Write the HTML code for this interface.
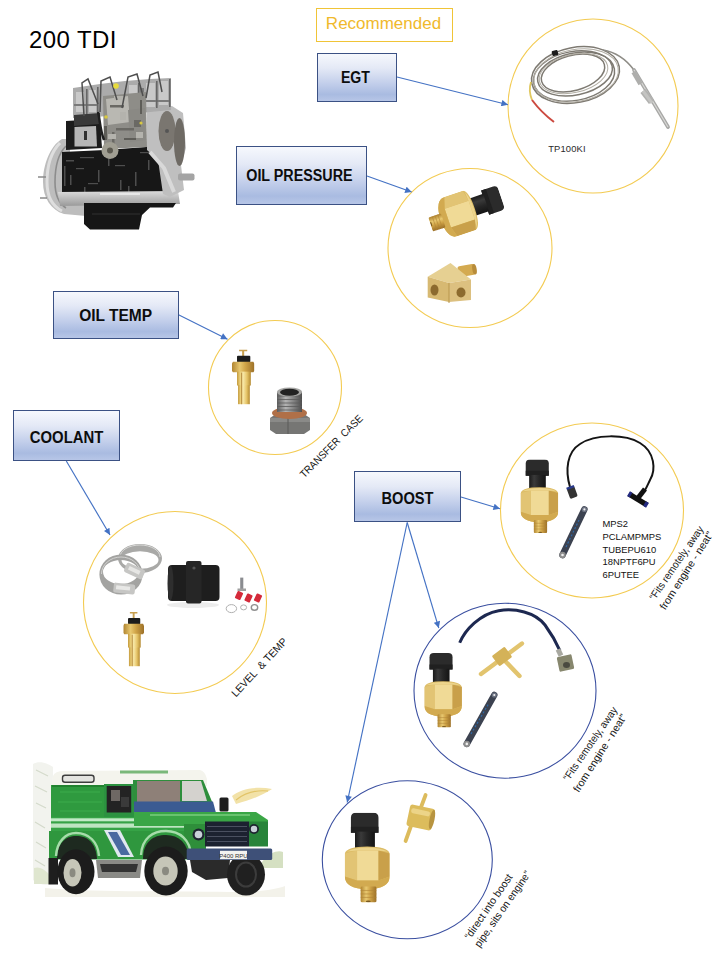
<!DOCTYPE html>
<html><head><meta charset="utf-8"><title>200 TDI</title>
<style>
html,body{margin:0;padding:0;background:#fff;}
body{width:720px;height:960px;position:relative;overflow:hidden;font-family:"Liberation Sans",sans-serif;}
.box{position:absolute;box-sizing:border-box;border:1.3px solid #3b5184;
background:linear-gradient(to bottom,#f6f8fd 0%,#e4e9f6 30%,#c3cfeb 62%,#a9bbe1 86%,#b7c6e7 100%);
display:flex;align-items:center;justify-content:center;font-weight:bold;color:#0d0d0d;font-size:16px;white-space:nowrap;}
.box span{display:inline-block;}
#svg{position:absolute;left:0;top:0;}
.lbl{position:absolute;font-size:9.4px;color:#111;line-height:12.7px;white-space:nowrap;}
</style></head>
<body>
<svg id="svg" width="720" height="960" viewBox="0 0 720 960">
<defs>
<marker id="ah" viewBox="0 0 10 10" refX="10" refY="5" markerWidth="8" markerHeight="6.6" markerUnits="userSpaceOnUse" orient="auto">
<path d="M0,0 L10,5 L0,10 z" fill="#4472c4"/>
</marker>
<linearGradient id="brH" x1="0" y1="0" x2="1" y2="0">
<stop offset="0" stop-color="#c49a3c"/><stop offset="0.22" stop-color="#ebd07a"/><stop offset="0.45" stop-color="#f7e7a6"/><stop offset="0.72" stop-color="#e6c56a"/><stop offset="1" stop-color="#b48a30"/>
</linearGradient>
<linearGradient id="brH2" x1="0" y1="0" x2="1" y2="0">
<stop offset="0" stop-color="#b08430"/><stop offset="0.35" stop-color="#e8c870"/><stop offset="0.6" stop-color="#d0a448"/><stop offset="1" stop-color="#9c7028"/>
</linearGradient>
<linearGradient id="stH" x1="0" y1="0" x2="1" y2="0">
<stop offset="0" stop-color="#5e5e5e"/><stop offset="0.35" stop-color="#b4b4b4"/><stop offset="0.6" stop-color="#8c8c8c"/><stop offset="1" stop-color="#4e4e4e"/>
</linearGradient>
<linearGradient id="blkH" x1="0" y1="0" x2="1" y2="0">
<stop offset="0" stop-color="#1a1a1a"/><stop offset="0.3" stop-color="#3a3a3a"/><stop offset="0.6" stop-color="#262626"/><stop offset="1" stop-color="#141414"/>
</linearGradient>
<linearGradient id="grayV" x1="0" y1="0" x2="0" y2="1">
<stop offset="0" stop-color="#dcdcdc"/><stop offset="1" stop-color="#9a9a9a"/>
</linearGradient>
<symbol id="psens" viewBox="0 0 44 90" preserveAspectRatio="none">
<path d="M6,5 Q6,0 11,0 L28,0 Q33,0 33,5 L33,20 L6,20 Z" fill="#2b2b2b"/>
<path d="M6,14 L33,14 L33,20 L6,20 Z" fill="#202020"/>
<rect x="10" y="19" width="19.5" height="17" fill="url(#blkH)"/>
<path d="M0,41 Q2,34 22,34 Q42,34 44,41 L44,64 Q44,76 22,77 Q0,76 0,64 Z" fill="#dcbc66"/>
<path d="M12,38 L33,38 L33,68 L12,68 Z" fill="#f0da96"/>
<path d="M0,41 L12,38 L12,68 L0,64 Z" fill="#e2c474"/>
<path d="M33,38 L44,41 L44,64 L33,68 Z" fill="#c9a04a"/>
<path d="M0,64 L12,68 L33,68 L44,64 Q44,76 22,77 Q0,76 0,64 Z" fill="#d2aa50"/>
<path d="M2,39 Q10,35 22,35 Q34,35 42,39 L33,38 L12,38 Z" fill="#ecd48c"/>
<rect x="15.5" y="74" width="15.5" height="16" rx="1.5" fill="url(#brH2)"/>
<path d="M15.5,78 L31,78 M15.5,81.5 L31,81.5 M15.5,85 L31,85" stroke="#b08436" stroke-width="0.6"/>
<ellipse cx="23" cy="89" rx="2.5" ry="0.8" fill="#7a5a20"/>
</symbol>
<symbol id="tsens" viewBox="0 0 22 56" preserveAspectRatio="none">
<path d="M7,1 L15,1 L15,2.5 L12,2.5 L12,8 L10,8 L10,2.5 L7,2.5 Z" fill="#c8a050"/>
<rect x="5" y="7" width="13" height="6.5" rx="1" fill="#1c1c1c"/>
<path d="M1,13 L21,13 L22,15 L22,22 L21,23.5 L1,23.5 L0,22 L0,15 Z" fill="url(#brH2)"/>
<rect x="5" y="23" width="13.5" height="14" fill="url(#brH)"/>
<rect x="6" y="36.5" width="11.5" height="19.5" fill="url(#brH)"/>
<path d="M9.5,24 L9.5,56" stroke="#a87a30" stroke-width="0.8"/>
</symbol>
</defs>
<!-- ENGINE -->
<g id="engine">
<!-- bellhousing -->
<path d="M62,139 C50,146 43,165 43,182 C43,198 51,210 64,214 L86,216 L86,190 L70,190 L70,139 Z" fill="#bdbdbd"/>
<path d="M60,143 C51,152 47,166 47,182 C47,197 52,206 62,211" fill="none" stroke="#dedede" stroke-width="3"/>
<path d="M66,146 C58,154 55,168 55,182 C55,195 58,203 66,208" fill="none" stroke="#8c8c8c" stroke-width="1.6"/>
<path d="M38,177 L46,177 M40,198 L47,198" stroke="#8a8a8a" stroke-width="1.4"/>
<!-- black block -->
<path d="M62,152 L105,150 L160,146 L164,194 L62,194 Z" fill="#171717"/>
<g fill="#4e4e4e">
<rect x="66" y="160" width="8" height="1.5"/><rect x="80" y="157" width="14" height="1.2"/><rect x="98" y="170" width="1.5" height="12"/>
<rect x="70" y="175" width="1.5" height="10"/><rect x="115" y="165" width="10" height="1.2"/><rect x="135" y="172" width="1.5" height="14"/>
<rect x="120" y="180" width="1.5" height="10"/><rect x="88" y="183" width="10" height="1.2"/><rect x="148" y="160" width="1.5" height="10"/>
<rect x="76" y="168" width="8" height="1.2"/><rect x="108" y="158" width="1.5" height="8"/><rect x="140" y="152" width="10" height="1.2"/>
<rect x="64" y="166" width="1.5" height="20"/><rect x="84" y="187" width="1.5" height="6"/><rect x="128" y="186" width="1.5" height="6"/>
</g>
<!-- lower rail -->
<path d="M58,192 L178,191 L180,204 L60,206 Z" fill="url(#grayV)"/>
<path d="M100,194 L140,194" stroke="#efefef" stroke-width="1.5"/>
<!-- oil pan -->
<path d="M84,203 L176,203 L173,207.5 L150,207.5 L142,215 L139,229.5 L90,229.5 L84,224 Z" fill="#161616"/>
<path d="M92,214 L140,214" stroke="#303030" stroke-width="1"/>
<!-- timing cover -->
<path d="M147,110 L172,106 L183,113 L186,148 L181,165 L184,190 L170,197 L163,194 L158,160 L147,150 Z" fill="#bfbfbf"/>
<ellipse cx="167" cy="131" rx="8.5" ry="20" fill="#7a7670"/>
<ellipse cx="179.5" cy="142" rx="5.5" ry="24" fill="#6e6a64"/>
<circle cx="167" cy="131" r="2" fill="#555"/>
<path d="M150,152 L164,168 L174,192" stroke="#d9d9d9" stroke-width="4" fill="none"/>
<rect x="178" y="173.5" width="16.5" height="7" rx="2" fill="#a4a4a4"/>
<!-- head -->
<path d="M73,88 L100,84 L125,81 L150,79 L171,78 L171,110 L150,112 L120,115 L95,117 L73,118 Z" fill="#ababab"/>
<g fill="#c9c9c9">
<rect x="76" y="92" width="8" height="20"/><rect x="89" y="90" width="7" height="22"/><rect x="129" y="85" width="8" height="22"/><rect x="146" y="83" width="9" height="24"/><rect x="159" y="81" width="9" height="24"/>
</g>
<g fill="#7a7a7a">
<rect x="74" y="104" width="24" height="2"/><rect x="126" y="100" width="44" height="2"/><rect x="140" y="88" width="4" height="10"/>
</g>
<g fill="#666">
<rect x="86" y="89" width="1.6" height="26"/><rect x="97" y="87" width="1.6" height="28"/><rect x="138" y="83" width="1.6" height="26"/><rect x="156" y="81" width="1.6" height="27"/><rect x="169" y="79" width="1.6" height="28"/>
</g>
<!-- dark zone left under head -->
<path d="M66,121 L100,119 L102,148 L66,150 Z" fill="#1c1c1c"/>
<path d="M74,115 L100,113 L100,124 L74,126 Z" fill="#3a3a3a"/>
<path d="M74.5,127 L96,126 L97,146.5 L74.5,146.5 Z" fill="#b6b6b6"/>
<rect x="84" y="131" width="3" height="9" fill="#303030"/>
<!-- injection pump -->
<path d="M103,96 L146,92 L147,147 L104,149 Z" fill="#8e8d88"/>
<path d="M106,99 L128,96 L130,122 L108,125 Z" fill="#b9b8b2"/>
<path d="M128,110 L145,108 L146,140 L130,142 Z" fill="#8a8984"/>
<g fill="#6a6964">
<rect x="110" y="105" width="14" height="2.5"/><rect x="116" y="128" width="18" height="2.5"/><rect x="112" y="132" width="2.5" height="12"/><rect x="134" y="120" width="7" height="7"/>
</g>
<g fill="#b4b3ad"><rect x="108" y="134" width="8" height="5"/><rect x="120" y="112" width="6" height="8"/><rect x="136" y="132" width="7" height="6"/><rect x="114" y="96" width="10" height="4"/></g>
<g fill="#5e5d58"><rect x="104" y="126" width="3" height="14"/><rect x="124" y="138" width="12" height="2"/><rect x="140" y="100" width="2" height="14"/></g>
<path d="M98,112 C100,120 100,130 104,140" stroke="#1e1e1e" stroke-width="2.5" fill="none"/>
<circle cx="110" cy="150.5" r="8.5" fill="#a09e92"/>
<circle cx="110" cy="150.5" r="3" fill="#5c5a50"/>
<!-- injector pipes -->
<g fill="none" stroke="#4e4e4e" stroke-width="1.5">
<path d="M84,116 L82,83 L88,79 L98,104"/>
<path d="M100,112 L101,81 L110,77 L117,100"/>
<path d="M122,108 L128,77 L137,74 L143,96"/>
<path d="M146,98 L150,75 L158,72 L162,92"/>
</g>
<circle cx="116" cy="86" r="2.8" fill="#e8dc3c"/>
<circle cx="106" cy="117" r="1.8" fill="#d8c840"/>
<circle cx="141" cy="123" r="1.6" fill="#d8c840"/>
</g>
<!-- circles -->
<g fill="none" stroke="#f3cb52" stroke-width="1.1">
<ellipse cx="593" cy="106" rx="85" ry="87"/>
<ellipse cx="470" cy="248" rx="82" ry="79.5"/>
<ellipse cx="275" cy="387.5" rx="66.5" ry="67"/>
<ellipse cx="175" cy="602.5" rx="91.5" ry="91"/>
<ellipse cx="592" cy="510.5" rx="91.5" ry="87.5"/>
</g>
<g fill="none" stroke="#3a4fa0" stroke-width="1.1">
<ellipse cx="505" cy="690.7" rx="91" ry="87.5"/>
<ellipse cx="407.3" cy="859.8" rx="85" ry="79"/>
</g>
<!-- arrows -->
<g stroke="#4472c4" stroke-width="1.15" fill="none" marker-end="url(#ah)">
<line x1="397" y1="77" x2="508" y2="104.7"/>
<line x1="367" y1="176" x2="411.7" y2="192"/>
<line x1="178.5" y1="314.7" x2="227.5" y2="339.2"/>
<line x1="66.3" y1="461" x2="110" y2="535"/>
<line x1="461" y1="497" x2="500" y2="508.8"/>
<line x1="407.2" y1="522.5" x2="438.8" y2="628.1"/>
<line x1="407.2" y1="522.5" x2="347.2" y2="802.5"/>
</g>

<!-- EGT thermocouple -->
<g id="tc" fill="none">
<g stroke="#7e7a72" stroke-width="1.5">
<ellipse cx="575.5" cy="75" rx="44.5" ry="27.5" transform="rotate(-11 575.5 75)"/>
<ellipse cx="574" cy="76" rx="41" ry="24.5" transform="rotate(-10 574 76)"/>
<ellipse cx="573" cy="73" rx="32.5" ry="17.5" transform="rotate(-15 573 73)"/>
<ellipse cx="575" cy="74" rx="38" ry="21" transform="rotate(-12 575 74)"/>
</g>
<g stroke="#b2aea4" stroke-width="1">
<ellipse cx="576" cy="75.5" rx="42.8" ry="26" transform="rotate(-11 576 75.5)"/>
<ellipse cx="573.5" cy="73.5" rx="35" ry="19" transform="rotate(-13 573.5 73.5)"/>
</g>
<path d="M603,50 C615,52 625,58 634,70" stroke="#8e8c86" stroke-width="1.6"/>
<path d="M634,70 L668,127" stroke="#a8a8a6" stroke-width="3.8" stroke-linecap="round"/>
<path d="M634,70 L668,127" stroke="#d8d8d6" stroke-width="1.2"/>
<path d="M633.5,72 L640.5,84" stroke="#aeaeac" stroke-width="4.6"/>
<path d="M643,91 L651.5,102" stroke="#b2b2b0" stroke-width="6.5"/>
<path d="M643,91 L652,103" stroke="#c4c4c2" stroke-width="3"/>
<path d="M531,82 C529,88 530,95 532,100" stroke="#e0c860" stroke-width="1.8"/>
<path d="M532,100 C538,108 546,116 554,122" stroke="#cc4a40" stroke-width="2"/>
<rect x="552" y="50.5" width="6" height="5" rx="1" fill="#1c1c1c" transform="rotate(-15 555 53)"/>
</g>

<!-- OIL PRESSURE sensor (rotated) -->
<use href="#psens" x="0" y="0" width="44" height="90" transform="translate(466,211.5) rotate(71.5) scale(0.94,0.84) translate(-22,-45)"/>
<!-- Brass tee -->
<g id="tee1">
<rect x="458" y="265" width="17" height="11" rx="2" fill="#d4aa50" transform="rotate(-10 466.5 270.5)"/>
<ellipse cx="474.5" cy="269.3" rx="2.2" ry="5.3" fill="#b88c3a" transform="rotate(-10 474.5 269.3)"/>
<path d="M427.7,276.7 L450.5,263.1 L471,279.4 L449,283 Z" fill="#e6d092"/>
<path d="M427.7,276.7 L449,283 L449,302 L427.7,297.5 Z" fill="#d7b972"/>
<path d="M449,283 L471,279.4 L471,300 L449,302 Z" fill="#dcc080"/>
<path d="M449,283 L449,303" stroke="#b8964c" stroke-width="1"/>
<ellipse cx="434.5" cy="290" rx="4" ry="5.5" fill="#8c6a2e"/>
<ellipse cx="461" cy="292.5" rx="4.5" ry="5" fill="#8c6a2e"/>
</g>

<!-- OIL TEMP sender + plug -->
<use href="#tsens" x="231.9" y="348.8" width="22.5" height="55.6"/>
<g id="plug">
<path d="M270,418 L276,414 L304,414 L310,418 L310,430 L304,434 L276,434 L270,430 Z" fill="#767674"/>
<path d="M270,418 L310,418 L310,422 L270,422 Z" fill="#8a8a88"/>
<path d="M288,414 L288,434" stroke="#5a5a58" stroke-width="1"/>
<ellipse cx="289.5" cy="413" rx="17.5" ry="6" fill="#b07048"/>
<rect x="277" y="392" width="25" height="20" fill="url(#stH)"/>
<g stroke="#5a5a5a" stroke-width="0.8"><path d="M277,396 L302,396 M277,399.5 L302,399.5 M277,403 L302,403 M277,406.5 L302,406.5 M277,410 L302,410"/></g>
<ellipse cx="289.5" cy="392" rx="12.5" ry="4.5" fill="#a6a6a4"/>
<ellipse cx="289.5" cy="392.3" rx="9.5" ry="3.5" fill="#222"/>
</g>

<!-- COOLANT items -->
<g id="cool">
<ellipse cx="193" cy="605" rx="26" ry="3" fill="#ececec"/>
<path fill-rule="evenodd" fill="#a9a9a7" d="M118,558.5 A22,14.5 0 1,0 162,558.5 A22,14.5 0 1,0 118,558.5 Z M121.5,560 A18.5,8.8 0 1,0 158.5,560 A18.5,8.8 0 1,0 121.5,560 Z"/>
<path fill="none" stroke="#d8d8d6" stroke-width="1" d="M120,557 A20,12 0 0,1 160,557"/>
<path fill-rule="evenodd" fill="#a3a3a1" d="M99.4,574.5 A21.6,20 0 1,0 142.6,574.5 A21.6,20 0 1,0 99.4,574.5 Z M103,572 A17.8,12 0 1,0 138.6,572 A17.8,12 0 1,0 103,572 Z"/>
<path fill="none" stroke="#d2d2d0" stroke-width="1" d="M101.5,574 A19.5,17 0 0,1 140.5,574"/>
<rect x="124.5" y="566" width="20" height="10" rx="2" fill="#c6c6c4" transform="rotate(25 134.5 571)"/>
<rect x="128" y="568.5" width="12" height="4" fill="#e6e6e4" transform="rotate(25 134.5 571)"/>
<rect x="113.5" y="583.5" width="21.5" height="10" rx="2" fill="#c6c6c4" transform="rotate(6 124 588.5)"/>
<rect x="116" y="586" width="14" height="4" fill="#e8e8e6" transform="rotate(6 124 588.5)"/>
<rect x="168" y="565" width="51.5" height="36" rx="4" fill="#1e1e1e"/>
<ellipse cx="170.5" cy="583" rx="3" ry="17" fill="#2e2e2e"/>
<rect x="186" y="561" width="15.5" height="42.5" rx="2" fill="#262626"/>
<circle cx="194" cy="568" r="1.6" fill="#555"/>
<rect x="240.2" y="577.6" width="3.1" height="12.5" fill="#8a8c90"/>
<rect x="237.5" y="588.5" width="8.5" height="2.5" fill="#a0a0a0"/>
<rect x="236" y="591.5" width="6" height="8" rx="1" fill="#d42a3a" transform="rotate(25 239 595.5)"/>
<rect x="245.5" y="594" width="6" height="8" rx="1" fill="#d42a3a" transform="rotate(25 248.5 598)"/>
<rect x="255" y="594" width="6" height="8" rx="1" fill="#d42a3a" transform="rotate(25 258 598)"/>
<ellipse cx="231.4" cy="608.6" rx="5.2" ry="4" fill="none" stroke="#b0b0b0" stroke-width="1"/>
<ellipse cx="243.6" cy="607.4" rx="3" ry="2.5" fill="none" stroke="#b0b0b0" stroke-width="1"/>
<ellipse cx="254.5" cy="607.4" rx="3.2" ry="2.8" fill="none" stroke="#909090" stroke-width="1.4"/>
</g>
<use href="#tsens" x="123.3" y="611" width="20.7" height="55.4"/>

<!-- BOOST circle 5 -->
<use href="#psens" x="520.6" y="459.4" width="37.6" height="73.7"/>
<path d="M570,487 C565,470 567,452 580,444 C595,434 625,434 640,443 C655,452 656,470 650,480 C648,484 647,487 645,490" fill="none" stroke="#141414" stroke-width="2"/>
<rect x="568" y="487" width="8" height="11" rx="1.5" fill="#333" transform="rotate(-20 572 492)"/>
<rect x="568" y="486" width="8" height="2.5" fill="#2a3a8a" transform="rotate(-20 572 492)"/>
<g stroke-linecap="butt">
<line x1="629" y1="494" x2="647" y2="505" stroke="#111" stroke-width="5.5"/>
<line x1="638" y1="498" x2="645" y2="489" stroke="#111" stroke-width="5"/>
<line x1="628.5" y1="493.7" x2="631" y2="495.2" stroke="#232a80" stroke-width="5.5"/>
<line x1="644.5" y1="503.5" x2="647.5" y2="505.3" stroke="#232a80" stroke-width="5.5"/>
</g>
<line x1="562.5" y1="555" x2="584.4" y2="509.4" stroke="#3c4250" stroke-width="6.5" stroke-linecap="round"/>
<line x1="566" y1="547" x2="580" y2="518" stroke="#2e6aa8" stroke-width="1.2" stroke-dasharray="2 2"/>
<circle cx="562.5" cy="555" r="3.2" fill="#8c8c8c"/><circle cx="562.5" cy="555" r="1.3" fill="#eee"/>
<circle cx="584.4" cy="509.4" r="2.6" fill="#6a7080"/><circle cx="584.4" cy="509.4" r="1.1" fill="#eee"/>

<!-- BOOST circle 6 -->
<use href="#psens" x="424.4" y="653" width="37.5" height="74.5"/>
<path d="M459.7,642.8 C465,630 480,614 498.6,610.7 C515,608 535,612 545,625 C553,636 557,644 559.9,650.6" fill="none" stroke="#1d2850" stroke-width="3"/>
<rect x="557" y="649" width="5" height="7" fill="#a8a8a0" transform="rotate(-25 559.5 652.5)"/>
<rect x="558" y="655.5" width="15" height="15" rx="1.5" fill="#87876e" transform="rotate(-12 565.5 663)"/>
<ellipse cx="566.5" cy="665" rx="3.5" ry="3" fill="#4a4a40"/>
<g stroke="#e2c46e" stroke-width="4.4" stroke-linecap="round">
<line x1="481" y1="674" x2="522" y2="643.5"/>
<line x1="502.5" y1="658.3" x2="519.5" y2="676"/>
</g>
<rect x="494" y="650" width="16" height="13" rx="1.5" fill="#d4b258" transform="rotate(-37 502 656.5)"/>
<line x1="466.8" y1="743.9" x2="494.3" y2="695" stroke="#3c4250" stroke-width="6.5" stroke-linecap="round"/>
<line x1="471" y1="734" x2="489" y2="703" stroke="#2e6aa8" stroke-width="1.2" stroke-dasharray="2 2"/>
<circle cx="466.8" cy="743.9" r="3.2" fill="#8c8c8c"/><circle cx="466.8" cy="743.9" r="1.3" fill="#eee"/>
<circle cx="494.3" cy="695" r="2.6" fill="#6a7080"/><circle cx="494.3" cy="695" r="1.1" fill="#eee"/>

<!-- BOOST circle 7 -->
<use href="#psens" x="344.8" y="812.7" width="44.9" height="89.7"/>
<g stroke="#dcbb5c" stroke-width="3.8" stroke-linecap="round">
<line x1="425.6" y1="795" x2="420.7" y2="808"/>
<line x1="411.7" y1="824" x2="405.6" y2="841"/>
</g>
<rect x="408" y="806.5" width="25.5" height="22" rx="3" fill="#dcbc5c" transform="rotate(12 420.8 817.5)"/>
<rect x="410" y="810" width="19" height="5" rx="2" fill="#ecd488" transform="rotate(12 420.8 817.5)"/>
<ellipse cx="432" cy="819.5" rx="2.5" ry="10" fill="#b89440" transform="rotate(12 432 819.5)"/>
<!-- LAND ROVER -->
<g id="rover">
<!-- background sketch -->
<path d="M33,764 C38,761 46,762 53,767 L52,884 C45,886 38,884 33,880 Z" fill="#f2f3ee"/>
<path d="M36,770 L48,776 M35,786 L47,792 M36,803 L46,808 M35,822 L45,828 M36,842 L46,848 M35,860 L45,866" stroke="#d4dacb" stroke-width="1.2"/>
<path d="M34,868 C40,866 46,870 50,876 L50,884 L34,884 Z" fill="#dfe6cf"/>
<path d="M45,888 C90,892 160,891 230,892 C255,892 275,890 285,886 L285,897 L45,897 Z" fill="#f3f2ea"/>
<path d="M232,796 C240,789 256,786 272,789 C263,795 251,800 236,804 Z" fill="#f2e2a8"/>
<path d="M236,800 C246,792 258,790 268,791" stroke="#e2c468" stroke-width="1.2" fill="none"/>
<path d="M262,862 C270,852 278,850 283,852 L283,868 L262,868 Z" fill="#d5e0c2"/>
<!-- roof -->
<path d="M52,786 L53,776 Q55,771 64,771 L200,770 Q205,771 207,779 L207,786 Z" fill="#f4f4ed"/>
<path d="M120,770.5 L168,770.5 L168,773.5 L120,773.5 Z" fill="#7ab87a"/>
<rect x="62.5" y="775.3" width="31.5" height="6.9" rx="2.5" fill="#e4e4e0" stroke="#3e3e3e" stroke-width="1.4"/>
<!-- rear body -->
<rect x="51" y="785" width="84" height="34" fill="#2f9a3f"/>
<path d="M52,786 L135,786" stroke="#1e7a2b" stroke-width="1.4"/>
<path d="M60,792 L100,792 M58,802 L102,802 M60,811 L100,811" stroke="#3cac4c" stroke-width="1.2"/>
<!-- door + window -->
<rect x="104" y="784" width="32" height="36" fill="#2c9240"/>
<rect x="106.7" y="786" width="24.5" height="26.5" fill="#232323"/>
<rect x="111" y="790" width="9" height="11" fill="#6e6864"/>
<rect x="121" y="797" width="8" height="10" fill="#3a3a3a"/>
<!-- windshield area -->
<path d="M133,780 L203,780 L213,804 L133,804 Z" fill="#2e8e3c"/>
<path d="M137,781 L180,781 L180,802 L137,802 Z" fill="#8e8078"/>
<path d="M182,781 L201,781 L207,801 L182,801 Z" fill="#d4d2ce"/>
<path d="M134,801.5 L213,801.5 L216,813 L134,813 Z" fill="#3b5b92"/>
<rect x="219.5" y="797.5" width="9" height="14" rx="1.5" fill="#1e1e1e"/>
<!-- belt stripe -->
<rect x="51" y="817" width="150" height="15" fill="#36a346"/>
<rect x="51" y="818.3" width="150" height="3" fill="#c2eac6"/>
<rect x="51" y="823.5" width="147" height="4.2" fill="#bfe5c2"/>
<!-- lower body -->
<rect x="49" y="831" width="142" height="28.5" fill="#2f973e"/>
<path d="M104,830 L120,830 L134,857 L118,857 Z" fill="#e0e8f0"/>
<path d="M108,832 L117,832 L130,855 L121,855 Z" fill="#4a6aa0"/>
<!-- bonnet and wing -->
<path d="M134,812 L256,812 L268,820 L268,826 L134,826 Z" fill="#3aa646"/>
<path d="M150,815 L250,815" stroke="#7acc7e" stroke-width="1.5"/>
<path d="M184,824 L206,824 L206,850 L184,850 Z" fill="#2e8e3a"/>
<!-- grille -->
<rect x="205" y="821.5" width="44" height="25" fill="#1c2230"/>
<g stroke="#4a5060" stroke-width="1"><path d="M207,826.5 L247,826.5 M207,831.5 L247,831.5 M207,836.5 L247,836.5 M207,841.5 L247,841.5"/></g>
<rect x="249" y="821.5" width="19" height="25" fill="#28843a"/>
<circle cx="198.5" cy="834.5" r="6" fill="#1e2430"/><circle cx="198.5" cy="834.5" r="3.8" fill="#c8d0d8"/>
<circle cx="254" cy="829" r="5" fill="#1e2430"/><circle cx="254" cy="829" r="3.2" fill="#c8d0d8"/>
<!-- wheel arches -->
<path d="M57,859 C57,843 66,836 76,836 C88,836 96,843 97,859 Z" fill="#1e2a20"/>
<path d="M56,856 C57,841 66,833 76,833 C89,833 98,842 99,856" fill="none" stroke="#a6dcaa" stroke-width="2.4"/>
<path d="M143,859 C143,842 153,835 166,835 C179,835 188,843 189,859 Z" fill="#1e2a20"/>
<path d="M141,855 C142,838 153,831 166,831 C180,831 190,840 191,855" fill="none" stroke="#a6dcaa" stroke-width="2.4"/>
<!-- underbody -->
<path d="M96,860 L142,860 L140,878 L98,878 Z" fill="#8a8a86"/>
<path d="M100,864 L138,864 L136,872 L102,872 Z" fill="#333"/>
<path d="M190,860 L230,860 L228,878 L206,880 L192,872 Z" fill="#2a2a2a"/>
<rect x="48.5" y="858" width="9.5" height="26.5" fill="#1e1e1e"/>
<!-- far wheel -->
<ellipse cx="246" cy="874.5" rx="19" ry="21" fill="#202020"/>
<ellipse cx="246" cy="874.5" rx="10" ry="12" fill="none" stroke="#3c3c3c" stroke-width="2"/>
<!-- bumper + plate -->
<rect x="186.7" y="848.5" width="85.5" height="11.5" rx="1.5" fill="#3e5078"/>
<rect x="220" y="850.8" width="27" height="8.4" fill="#f2f2f0"/>
<text x="233.5" y="857.6" font-family="Liberation Sans, sans-serif" font-size="6" text-anchor="middle" fill="#333">P400 RPU</text>
<!-- wheels -->
<ellipse cx="76" cy="871.7" rx="18.5" ry="22.5" fill="#1c1c1c"/>
<ellipse cx="72.5" cy="872.8" rx="9" ry="13.8" fill="#c6c6b8"/>
<ellipse cx="72.5" cy="872.8" rx="3" ry="4.5" fill="#8a8a80"/>
<ellipse cx="166" cy="871" rx="21.7" ry="24.4" fill="#1c1c1c"/>
<ellipse cx="165.5" cy="871" rx="12.2" ry="14.4" fill="#c6c6b8"/>
<ellipse cx="165.5" cy="871" rx="3.5" ry="4.2" fill="#8a8a80"/>
</g>
<!-- rotated labels -->
<g font-family="Liberation Sans, sans-serif" fill="#161616" font-size="10.6" text-anchor="middle" dominant-baseline="central">
<text transform="translate(331,446) rotate(-45)" textLength="84" lengthAdjust="spacingAndGlyphs">TRANSFER&#160;&#160;CASE</text>
<text transform="translate(259,667) rotate(-47)" textLength="76" lengthAdjust="spacingAndGlyphs">LEVEL&#160;&#160;&amp;&#160;TEMP</text>
<text transform="translate(676,562.8) rotate(-55.5)" textLength="87" lengthAdjust="spacingAndGlyphs">“Fits remotely, away</text>
<text transform="translate(686,570.3) rotate(-57.5)" textLength="90" lengthAdjust="spacingAndGlyphs">from engine - neat”</text>
<text transform="translate(589.9,743.6) rotate(-55.5)" textLength="87" lengthAdjust="spacingAndGlyphs">“Fits remotely, away</text>
<text transform="translate(599.5,752.9) rotate(-57.5)" textLength="90" lengthAdjust="spacingAndGlyphs">from engine - neat”</text>
<text transform="translate(488.1,906.4) rotate(-55.8)" textLength="76.5" lengthAdjust="spacingAndGlyphs">“direct into boost</text>
<text transform="translate(502.2,908.7) rotate(-55.1)" textLength="90" lengthAdjust="spacingAndGlyphs">pipe, sits on engine”</text>
</g>
</svg>
<div style="position:absolute;left:29px;top:26px;font-size:24px;color:#000;letter-spacing:0.4px;line-height:28px;">200 TDI</div>
<div style="position:absolute;left:316px;top:8px;width:137px;height:34px;box-sizing:border-box;border:1.3px solid #f0c437;color:#f0b92c;font-size:17px;display:flex;align-items:center;justify-content:center;"><span style="display:inline-block;transform:translate(-1px,-1px)">Recommended</span></div>
<div class="box" style="left:317px;top:53px;width:80px;height:49px;"><span style="transform:translateX(-2px) scaleX(0.88)">EGT</span></div>
<div class="box" style="left:236px;top:146px;width:131px;height:59px;"><span style="transform:translateX(-2px) scaleX(0.895)">OIL PRESSURE</span></div>
<div class="box" style="left:53px;top:291px;width:126px;height:48px;"><span style="transform:translateY(1px) scaleX(0.97)">OIL TEMP</span></div>
<div class="box" style="left:13px;top:410px;width:107px;height:51px;"><span style="transform:translateY(1.5px) scaleX(0.93)">COOLANT</span></div>
<div class="box" style="left:354px;top:471px;width:107px;height:51px;"><span style="transform:translateY(1.5px) scaleX(0.915)">BOOST</span></div>
<div class="lbl" style="left:548.2px;top:143.2px;letter-spacing:0.15px;color:#2a2a2a;">TP100KI</div>
<div class="lbl" style="left:602.5px;top:518.1px;line-height:12.72px;">MPS2<br>PCLAMPMPS<br>TUBEPU610<br>18NPTF6PU<br>6PUTEE</div>
</body></html>
